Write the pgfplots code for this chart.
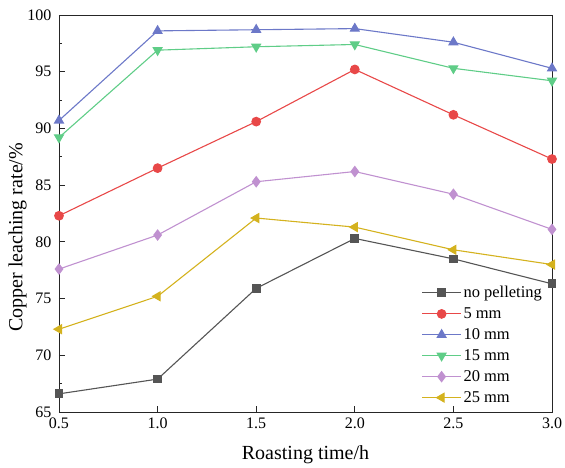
\documentclass[border=0pt]{standalone}
\usepackage{pgfplots}
\pgfplotsset{compat=1.18}
\usepackage{fontspec}
\setmainfont{Liberation Serif}
\definecolor{cgray}{RGB}{85,85,85}
\definecolor{cred}{RGB}{232,72,72}
\definecolor{cblue}{RGB}{108,120,200}
\definecolor{cgreen}{RGB}{95,205,135}
\definecolor{cpurple}{RGB}{192,145,208}
\definecolor{cyellow}{RGB}{212,178,30}
\begin{document}
\begin{tikzpicture}
\begin{axis}[
  scale only axis,
  width=493pt, height=397pt,
  xmin=0.5, xmax=3.0, ymin=65, ymax=100,
  xtick={0.5,1.0,1.5,2.0,2.5,3.0},
  xticklabels={0.5,1.0,1.5,2.0,2.5,3.0},
  ytick={65,70,...,100},
  minor y tick num=1,
  tick align=inside,
  major tick length=6pt, minor tick length=3.5pt,
  xtick pos=bottom, ytick pos=left,
  /pgf/number format/assume math mode=true,
  tick label style={font=\fontsize{16}{16}\selectfont, black},
  xticklabel style={yshift=-2pt},
  yticklabel style={xshift=-4pt},
  label style={font=\fontsize{20}{20}\selectfont},
  xlabel={Roasting time/h},
  ylabel={Copper leaching rate/\%},
  xlabel style={yshift=-10pt},
  ylabel style={at={(ticklabel cs:0.44)}, yshift=-6pt},
  axis line style={line width=0.9pt, black!85},
  every tick/.style={line width=0.8pt, black!85},
  legend style={draw=none, fill=none, at={(0.99,0.01)}, anchor=south east,
    font=\fontsize{16.5}{16.5}\selectfont, row sep=4.5pt},
  legend cell align=left,
  legend image code/.code={\draw[mark repeat=2,mark phase=2] plot coordinates {(0cm,0cm) (0.68cm,0cm) (1.36cm,0cm)};},
  every axis plot/.append style={line width=1.1pt, mark size=4.5pt},
]
\addplot[cgray, mark=square*, mark size=3.8pt] coordinates {(0.5,66.6) (1.0,67.9) (1.5,75.9) (2.0,80.3) (2.5,78.5) (3.0,76.3)};
\addlegendentry{no pelleting}
\addplot[cred, mark=*, mark size=4.3pt] coordinates {(0.5,82.3) (1.0,86.5) (1.5,90.6) (2.0,95.2) (2.5,91.2) (3.0,87.3)};
\addlegendentry{5 mm}
\addplot[cblue, mark=triangle*, mark size=5pt] coordinates {(0.5,90.7) (1.0,98.6) (1.5,98.7) (2.0,98.8) (2.5,97.6) (3.0,95.3)};
\addlegendentry{10 mm}
\addplot[cgreen, mark=triangle*, mark size=5pt, mark options={rotate=180}] coordinates {(0.5,89.2) (1.0,96.9) (1.5,97.2) (2.0,97.4) (2.5,95.3) (3.0,94.2)};
\addlegendentry{15 mm}
\addplot[cpurple, mark=diamond*, mark size=5pt] coordinates {(0.5,77.6) (1.0,80.6) (1.5,85.3) (2.0,86.2) (2.5,84.2) (3.0,81.1)};
\addlegendentry{20 mm}
\addplot[cyellow, mark=triangle*, mark size=5pt, mark options={rotate=90}] coordinates {(0.5,72.3) (1.0,75.2) (1.5,82.1) (2.0,81.3) (2.5,79.3) (3.0,78.0)};
\addlegendentry{25 mm}
\coordinate (A) at (rel axis cs:0,0);
\coordinate (B) at (rel axis cs:1,1);
\end{axis}
\pgfresetboundingbox
\path ([shift={(-59pt,-56pt)}]A) rectangle ([shift={(13pt,15pt)}]B);
\end{tikzpicture}
\end{document}
